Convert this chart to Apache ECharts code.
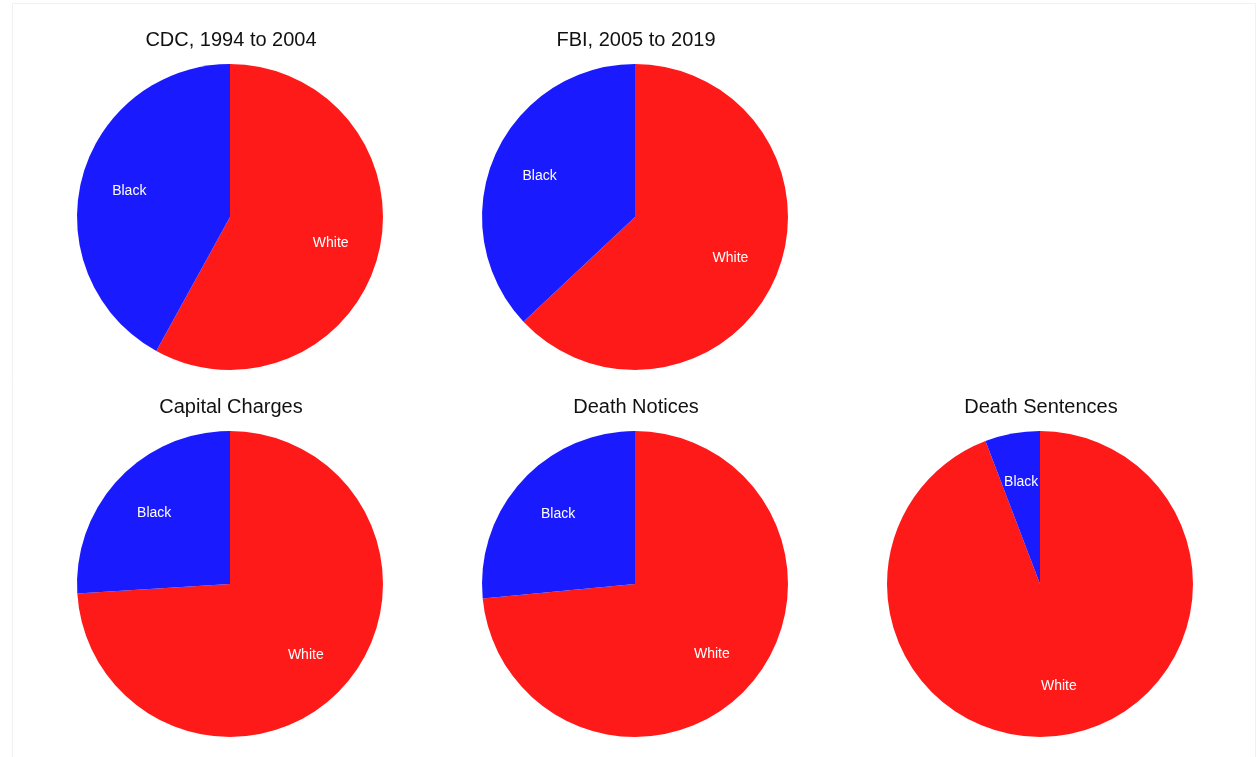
<!DOCTYPE html>
<html>
<head>
<meta charset="utf-8">
<title>Race shares by source</title>
<script src="https://cdn.jsdelivr.net/npm/echarts@6/dist/echarts.min.js"></script>
<style>
  html, body { margin: 0; padding: 0; background: #ffffff; }
  #chart { width: 1256px; height: 757px; }
</style>
</head>
<body>
<div id="chart"></div>
<script>
// Panel titles, one per pie
const panelTitles = [
  'CDC, 1994 to 2004',
  'FBI, 2005 to 2019',
  'Capital Charges',
  'Death Notices',
  'Death Sentences'
];

// Slice categories, in drawing order (clockwise from 12 o'clock)
const categories = ['White', 'Black'];

// Share of each category per panel
const whiteShares = [0.58, 0.63, 0.74, 0.735, 0.942];
const blackShares = [0.42, 0.37, 0.26, 0.265, 0.058];

const sliceColors = { White: '#ff1a1a', Black: '#1a1aff' };

// Panel placement (pixel centers) and pie radius
const R = 153;
const panelPos = [
  { cx: 230, cy: 217 },
  { cx: 635, cy: 217 },
  { cx: 230, cy: 584 },
  { cx: 635, cy: 584 },
  { cx: 1040, cy: 584 }
];
const titleTop = [30, 30, 397, 397, 397];

const series = [];
const titles = [];

panelTitles.forEach(function (name, i) {
  const shares = [whiteShares[i], blackShares[i]];
  const data = categories.map(function (c, k) {
    return { name: c, value: shares[k], itemStyle: { color: sliceColors[c] } };
  });
  const center = [panelPos[i].cx, panelPos[i].cy];

  // Filled slices
  series.push({
    type: 'pie',
    center: center,
    radius: [0, R],
    startAngle: 90,
    clockwise: true,
    silent: true,
    avoidLabelOverlap: false,
    label: { show: false },
    labelLine: { show: false },
    itemStyle: { borderWidth: 0 },
    data: data
  });

  // Transparent ring that places the slice names about two thirds out
  series.push({
    type: 'pie',
    center: center,
    radius: [R * 0.32, R],
    startAngle: 90,
    clockwise: true,
    silent: true,
    avoidLabelOverlap: false,
    itemStyle: { color: 'rgba(0,0,0,0)', borderWidth: 0 },
    label: {
      show: true,
      position: 'inside',
      formatter: '{b}',
      color: '#ffffff',
      fontFamily: 'Liberation Sans, Arial, sans-serif',
      fontSize: 14
    },
    labelLine: { show: false },
    data: categories.map(function (c, k) {
      return { name: c, value: shares[k] };
    })
  });

  titles.push({
    text: name,
    left: panelPos[i].cx + 1,
    top: titleTop[i],
    padding: 0,
    textAlign: 'center',
    textStyle: {
      fontFamily: 'Liberation Sans, Arial, sans-serif',
      fontSize: 20,
      fontWeight: 'normal',
      color: '#111111'
    }
  });
});

const chart = echarts.init(document.getElementById('chart'), null, { renderer: 'canvas' });
chart.setOption({
  backgroundColor: '#ffffff',
  animation: false,
  title: titles,
  graphic: [{
    type: 'rect',
    shape: { x: 12.5, y: 3.5, width: 1243, height: 760 },
    style: { fill: 'none', stroke: '#f1f1f1', lineWidth: 1 },
    silent: true
  }],
  series: series
});
</script>
</body>
</html>
